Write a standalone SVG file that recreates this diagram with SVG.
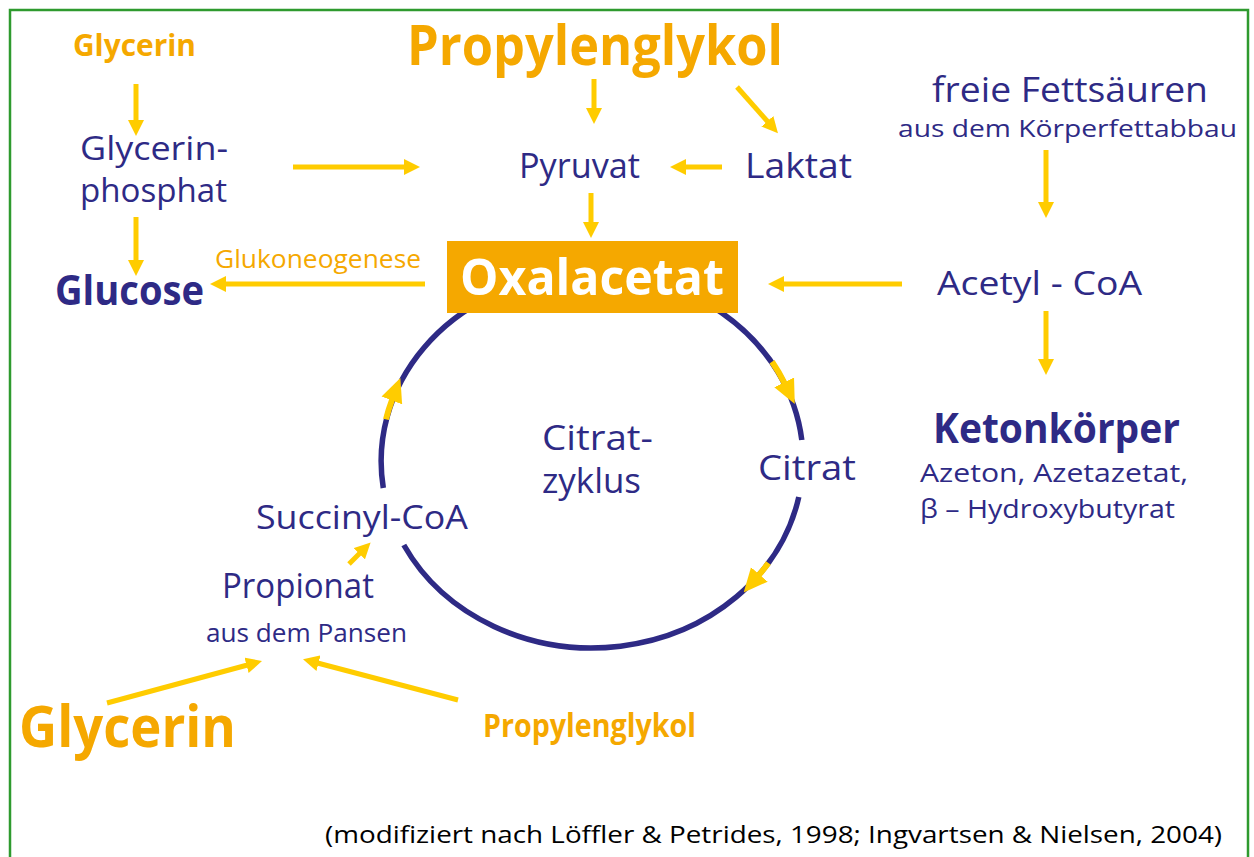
<svg xmlns="http://www.w3.org/2000/svg" width="1254" height="857" viewBox="0 0 1254 857">
  <style>
    text { font-family: "Open Sans", "DejaVu Sans", sans-serif; }
    .navy { fill: #2e2a85; }
    .orange { fill: #f5a800; }
    .bold { font-weight: bold; }
    .arrow { stroke: #ffcc00; stroke-width: 5; fill: none; marker-end: url(#head); }
    .ring-arrow { stroke: #ffcc00; stroke-width: 6; fill: none; marker-end: url(#bighead); }
    .cycle { stroke: #2e2a85; stroke-width: 5.5; fill: none; }
  </style>
  <defs>
    <marker id="head" viewBox="0 0 16 16" markerUnits="userSpaceOnUse" markerWidth="16" markerHeight="16" refX="1" refY="8" orient="auto">
      <path d="M0,0 L16,8 L0,16 z" fill="#ffcc00"/>
    </marker>
    <marker id="bighead" viewBox="0 0 24 24" markerUnits="userSpaceOnUse" markerWidth="24" markerHeight="24" refX="1" refY="12" orient="auto">
      <path d="M0,1 L24,12 L0,23 z" fill="#ffcc00"/>
    </marker>
  </defs>

  <rect width="1254" height="857" fill="#ffffff"/>
  <!-- frame -->
  <path d="M10,857 L10,10 L1248,10 L1248,857" fill="none" stroke="#2e9a2e" stroke-width="2.5"/>

  <!-- citric acid cycle ring (gaps for labels) -->
  <g id="cycle-ring">
    <path class="cycle" d="M383.3,488 A211,188 0 1 1 801.8,440"/>
    <path class="cycle" d="M798.8,497 A211,188 0 0 1 403.8,545"/>
  </g>

  <!-- connectors -->
  <g id="connectors">
    <line class="arrow" x1="136" y1="84" x2="136" y2="121"/>
    <line class="arrow" x1="136" y1="217" x2="136" y2="261"/>
    <line class="arrow" x1="293" y1="167" x2="405" y2="167"/>
    <line class="arrow" x1="425" y1="284" x2="225" y2="284"/>
    <line class="arrow" x1="594" y1="79" x2="594" y2="109"/>
    <line class="arrow" x1="737" y1="87" x2="768" y2="122"/>
    <line class="arrow" x1="722" y1="167" x2="685" y2="167"/>
    <line class="arrow" x1="591" y1="193" x2="591" y2="223"/>
    <line class="arrow" x1="902" y1="284" x2="783" y2="284"/>
    <line class="arrow" x1="1046" y1="150" x2="1046" y2="203"/>
    <line class="arrow" x1="1046" y1="311" x2="1046" y2="360"/>
    <line class="arrow" x1="349" y1="564" x2="360" y2="553"/>
    <line class="arrow" x1="107" y1="703" x2="247.5" y2="665"/>
    <line class="arrow" x1="458" y1="700" x2="317.5" y2="663"/>
    <!-- direction marks on the ring -->
    <path class="ring-arrow" d="M772,361.7 A211,188 0 0 1 784.6,383.3"/>
    <path class="ring-arrow" d="M768.4,563 A211,188 0 0 1 758.7,575.2"/>
    <path class="ring-arrow" d="M386,419.4 A211,188 0 0 1 392.2,399.5"/>
  </g>

  <g id="glycerin-top"><text class="orange bold" x="73" y="56" font-size="30" textLength="123" lengthAdjust="spacingAndGlyphs">Glycerin</text></g>
  <g id="glycerinphosphat">
    <text class="navy" x="80" y="160" font-size="32" textLength="148" lengthAdjust="spacingAndGlyphs">Glycerin-</text>
    <text class="navy" x="80" y="202" font-size="32" textLength="147" lengthAdjust="spacingAndGlyphs">phosphat</text>
  </g>
  <g id="glucose"><text class="navy bold" x="55" y="305" font-size="42" textLength="149" lengthAdjust="spacingAndGlyphs">Glucose</text></g>
  <g id="glukoneogenese"><text class="orange" x="215" y="268" font-size="26" textLength="206" lengthAdjust="spacingAndGlyphs">Glukoneogenese</text></g>
  <g id="propylenglykol-top"><text class="orange bold" x="407" y="65" font-size="55" textLength="376" lengthAdjust="spacingAndGlyphs">Propylenglykol</text></g>
  <g id="pyruvat"><text class="navy" x="519" y="178" font-size="34" textLength="121" lengthAdjust="spacingAndGlyphs">Pyruvat</text></g>
  <g id="laktat"><text class="navy" x="745" y="178" font-size="34" textLength="107" lengthAdjust="spacingAndGlyphs">Laktat</text></g>

  <g id="oxalacetat">
    <rect x="447" y="241" width="291" height="72" fill="#f5a800"/>
    <text class="bold" x="460" y="295" font-size="51" fill="#ffffff" textLength="264" lengthAdjust="spacingAndGlyphs">Oxalacetat</text>
  </g>

  <g id="fettsaeuren">
    <text class="navy" x="932" y="102" font-size="34" textLength="276" lengthAdjust="spacingAndGlyphs">freie Fettsäuren</text>
    <text class="navy" x="898" y="137" font-size="24" textLength="339" lengthAdjust="spacingAndGlyphs">aus dem Körperfettabbau</text>
  </g>
  <g id="acetyl-coa"><text class="navy" x="937" y="295" font-size="32" textLength="205" lengthAdjust="spacingAndGlyphs">Acetyl - CoA</text></g>
  <g id="ketonkoerper">
    <text class="navy bold" x="933" y="443" font-size="42" textLength="247" lengthAdjust="spacingAndGlyphs">Ketonkörper</text>
    <text class="navy" x="920" y="482" font-size="25" textLength="268" lengthAdjust="spacingAndGlyphs">Azeton, Azetazetat,</text>
    <text class="navy" x="920" y="518" font-size="25" textLength="255" lengthAdjust="spacingAndGlyphs">β – Hydroxybutyrat</text>
  </g>

  <g id="citratzyklus">
    <text class="navy" x="542" y="450" font-size="34" textLength="111" lengthAdjust="spacingAndGlyphs">Citrat-</text>
    <text class="navy" x="542" y="493" font-size="34" textLength="99" lengthAdjust="spacingAndGlyphs">zyklus</text>
  </g>
  <g id="citrat"><text class="navy" x="758" y="480" font-size="34" textLength="98" lengthAdjust="spacingAndGlyphs">Citrat</text></g>
  <g id="succinyl-coa"><text class="navy" x="256" y="529" font-size="33" textLength="212" lengthAdjust="spacingAndGlyphs">Succinyl-CoA</text></g>
  <g id="propionat">
    <text class="navy" x="222" y="598" font-size="34" textLength="152" lengthAdjust="spacingAndGlyphs">Propionat</text>
    <text class="navy" x="206" y="642" font-size="26" textLength="201" lengthAdjust="spacingAndGlyphs">aus dem Pansen</text>
  </g>
  <g id="glycerin-bottom"><text class="orange bold" x="19" y="747" font-size="58" textLength="217" lengthAdjust="spacingAndGlyphs">Glycerin</text></g>
  <g id="propylenglykol-bottom"><text class="orange bold" x="483" y="737" font-size="32" textLength="213" lengthAdjust="spacingAndGlyphs">Propylenglykol</text></g>

  <g id="quelle"><text x="325" y="843" font-size="24" fill="#000000" textLength="897" lengthAdjust="spacingAndGlyphs">(modifiziert nach Löffler &amp; Petrides, 1998;  Ingvartsen &amp; Nielsen, 2004)</text></g>
</svg>
